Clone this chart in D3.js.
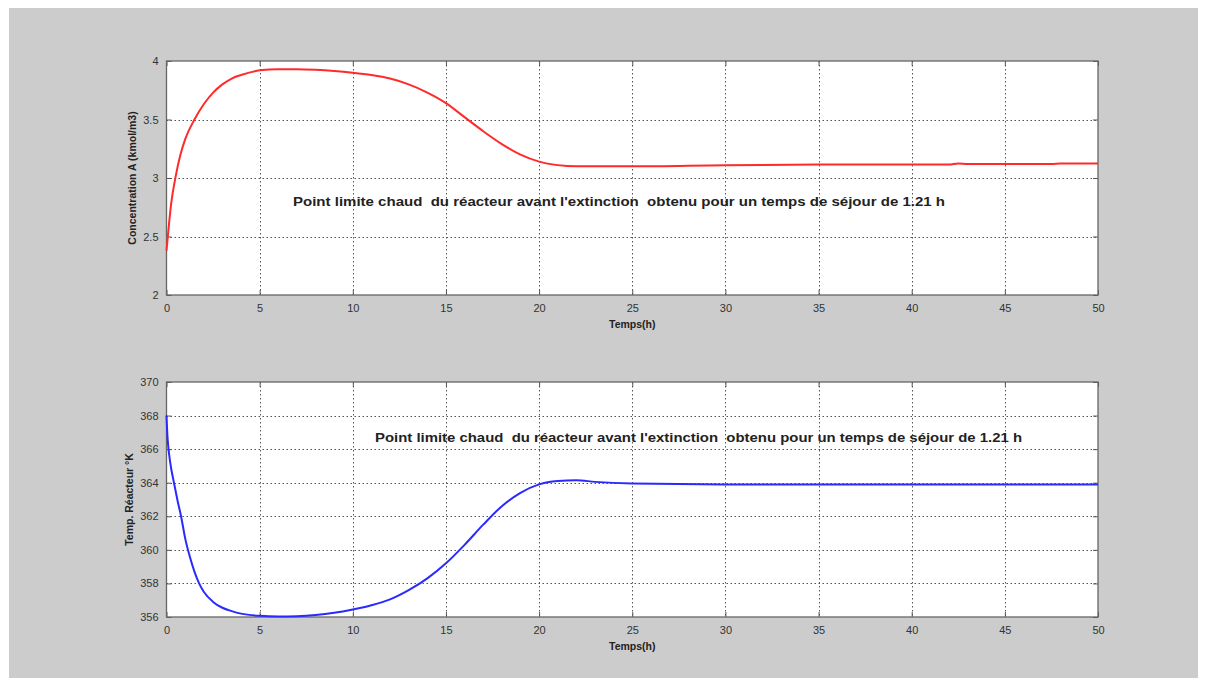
<!DOCTYPE html>
<html><head><meta charset="utf-8">
<script src="https://cdn.jsdelivr.net/npm/d3@7"></script>
<style>
html,body{margin:0;padding:0;background:#fff;}
svg{display:block;}
</style></head>
<body>
<svg id="c" width="1207" height="686"></svg>
<script>
// ---- data ----
const tTop = [0,0.1,0.25,0.5,0.75,1,1.5,2,2.5,3,3.5,4,5,6,7,8,9,10,11,12,13,14,15,16,17,18,19,20,21,22,23,25,30,35,40,42,42.5,43,45,47.5,48,50];
const concA = [2.38,2.55,2.78,3.02,3.2,3.33,3.5,3.63,3.73,3.8,3.85,3.88,3.92,3.93,3.93,3.925,3.915,3.9,3.88,3.85,3.80,3.73,3.64,3.52,3.40,3.29,3.20,3.14,3.11,3.10,3.10,3.10,3.11,3.115,3.115,3.115,3.125,3.12,3.12,3.12,3.125,3.125];
const tBot = [0,0.05,0.1,0.2,0.4,0.6,0.8,1.0,1.25,1.5,1.75,2,2.5,3,3.5,4,5,6,7,8,9,10,11,12,13,14,15,16,17,18,19,20,21,22,23,25,30,40,50];
const tempR = [368,366.8,366.1,365.2,364.0,362.9,361.9,360.7,359.6,358.7,358.0,357.5,356.9,356.55,356.35,356.2,356.07,356.03,356.05,356.12,356.25,356.45,356.7,357.05,357.6,358.3,359.2,360.3,361.5,362.6,363.4,363.9,364.1,364.15,364.05,363.95,363.9,363.9,363.9];
const xTicks = [0,5,10,15,20,25,30,35,40,45,50];
const yTicksTop = [2,2.5,3,3.5,4];
const yTicksBot = [356,358,360,362,364,366,368,370];
const xLabel = "Temps(h)";
const yLabelTop = "Concentration A (kmol/m3)";
const yLabelBot = "Temp. Réacteur °K";
const annotation = "Point limite chaud  du réacteur avant l'extinction  obtenu pour un temps de séjour de 1.21 h";

const svg = d3.select("#c");
svg.append("rect").attr("x",9).attr("y",8).attr("width",1189).attr("height",670).attr("fill","#cccccc");

function panel(cfg){
  const {top,bottom,left,right,ydom,yticks,tdata,vdata,color,ylab,ylabX,ann,annX,annY,annW} = cfg;
  const x = d3.scaleLinear().domain([0,50]).range([left,right]);
  const y = d3.scaleLinear().domain(ydom).range([bottom,top]);
  const g = svg.append("g");
  g.append("rect").attr("x",left).attr("y",top).attr("width",right-left).attr("height",bottom-top).attr("fill","#fff");
  // grid
  const grid = g.append("g").attr("stroke","#555").attr("stroke-width",1).attr("stroke-dasharray","1.5,2.5");
  xTicks.slice(1,-1).forEach(v=>{
    grid.append("line").attr("x1",Math.round(x(v))+0.5).attr("x2",Math.round(x(v))+0.5).attr("y1",top).attr("y2",bottom);
  });
  yticks.slice(1,-1).forEach(v=>{
    grid.append("line").attr("y1",Math.round(y(v))+0.5).attr("y2",Math.round(y(v))+0.5).attr("x1",left).attr("x2",right);
  });
  // axes (inward ticks)
  const ax = d3.axisBottom(x).tickValues(xTicks).tickSize(-5).tickPadding(9).tickFormat(d3.format("d"));
  const axT = d3.axisTop(x).tickValues(xTicks).tickSize(-5).tickFormat("");
  const ay = d3.axisLeft(y).tickValues(yticks).tickSize(-5).tickPadding(8).tickFormat(d=>String(d));
  const ayR = d3.axisRight(y).tickValues(yticks).tickSize(-5).tickFormat("");
  [[ax,`translate(0,${bottom})`],[axT,`translate(0,${top})`],[ay,`translate(${left},0)`],[ayR,`translate(${right},0)`]].forEach(([a,t])=>{
    const s = g.append("g").attr("transform",t).call(a);
    s.select(".domain").remove();
    s.selectAll("line").attr("stroke","#555");
    s.selectAll("text").attr("font-family","Liberation Sans, Arial, sans-serif").attr("font-size",11).attr("fill","#333");
  });
  g.append("rect").attr("x",left).attr("y",top).attr("width",right-left).attr("height",bottom-top)
    .attr("fill","none").attr("stroke","#666").attr("stroke-width",1.3);
  // line
  const line = d3.line().x((d,i)=>x(tdata[i])).y(d=>y(d)).curve(d3.curveMonotoneX);
  g.append("path").datum(vdata).attr("d",line).attr("fill","none").attr("stroke",color).attr("stroke-width",2);
  // labels
  g.append("text").attr("x",(left+right)/2).attr("y",bottom+33).attr("text-anchor","middle")
    .attr("font-family","Liberation Sans, Arial, sans-serif").attr("font-weight","bold").attr("font-size",10.5).attr("fill","#222").text(xLabel);
  g.append("text").attr("transform",`translate(${ylabX},${(top+bottom)/2}) rotate(-90)`).attr("text-anchor","middle")
    .attr("font-family","Liberation Sans, Arial, sans-serif").attr("font-weight","bold").attr("font-size",10.5).attr("fill","#222").text(ylab);
  g.append("text").attr("x",annX).attr("y",annY).attr("textLength",annW).attr("lengthAdjust","spacingAndGlyphs")
    .style("white-space","pre").attr("xml:space","preserve")
    .attr("font-family","Liberation Sans, Arial, sans-serif").attr("font-weight","bold").attr("font-size",13).attr("fill","#222").text(ann);
}

panel({top:61,bottom:295,left:166.5,right:1098,ydom:[2,4],yticks:yTicksTop,tdata:tTop,vdata:concA,color:"#ff2a2a",
  ylab:yLabelTop,ylabX:136,ann:annotation,annX:293,annY:206,annW:652});
panel({top:382,bottom:617,left:166.5,right:1098,ydom:[356,370],yticks:yTicksBot,tdata:tBot,vdata:tempR,color:"#2a2aff",
  ylab:yLabelBot,ylabX:133,ann:annotation,annX:375,annY:442,annW:647});
</script>
</body></html>
